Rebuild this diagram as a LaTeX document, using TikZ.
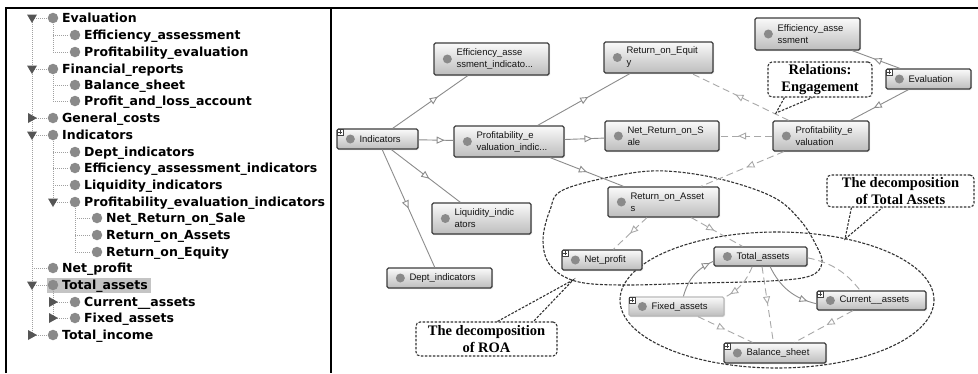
\documentclass[tikz,border=0pt]{standalone}
\usepackage{fontspec}
\setmainfont{Liberation Serif}
\newfontfamily\treefont{DejaVu Sans}
\newfontfamily\boxfont{Liberation Sans}
\usetikzlibrary{arrows.meta,decorations.markings,fit,shadows}

\definecolor{edgegray}{HTML}{8C8C8C}
\definecolor{dashgray}{HTML}{A8A8A8}
\definecolor{dotgray}{HTML}{8A8A8A}
\definecolor{boxborder}{HTML}{3C3C3C}
\definecolor{calloutc}{HTML}{333333}
\definecolor{treeline}{HTML}{A0A0A0}
\definecolor{togglec}{HTML}{555555}
\definecolor{selgray}{HTML}{C4C4C4}

\tikzset{
  obox/.style={draw=boxborder, line width=1.3pt, rounded corners=1.5pt, inner sep=0pt,
    top color=gray!4, bottom color=gray!52,
    drop shadow={opacity=0.25, shadow xshift=1pt, shadow yshift=-1.2pt}},
  faded/.style={draw=gray!55},
  odot/.style={circle, fill=dotgray, minimum size=9pt, inner sep=0pt},
  otext/.style={anchor=west, inner sep=0pt, align=left,
    font=\boxfont\fontsize{9.5}{12}\selectfont, text=black!92},
  plusbox/.style={draw=black!75, fill=white, minimum size=6pt, inner sep=0pt, line width=0.5pt,
    path picture={\draw[line width=0.6pt]
      ([xshift=-2pt]path picture bounding box.center) -- ([xshift=2pt]path picture bounding box.center)
      ([yshift=-2pt]path picture bounding box.center) -- ([yshift=2pt]path picture bounding box.center);}},
  sub/.style={draw=edgegray, line width=0.9pt},
  rel/.style={draw=dashgray, line width=0.9pt, dash pattern=on 7pt off 4pt},
  midtri/.style={postaction={decorate}, decoration={markings,
    mark=at position #1 with {\arrow{Triangle[length=8pt, width=7pt, fill=white]}}}},
  midtri/.default=0.55,
  callout/.style={draw=calloutc, line width=1.1pt, dash pattern=on 2.5pt off 1.5pt,
    rounded corners=4pt, fill=white, inner sep=0pt},
  ctext/.style={font=\bfseries\fontsize{14.5}{16.5}\selectfont, align=center, inner sep=0pt},
  cptr/.style={draw=calloutc, line width=1.1pt, dash pattern=on 2.5pt off 1.5pt},
  groupline/.style={draw=calloutc, line width=1.1pt, dash pattern=on 3pt off 1.5pt},
  tdot/.style={circle, fill=dotgray, minimum size=10.5pt, inner sep=0pt},
  ttext/.style={anchor=base west, inner sep=0pt,
    font=\treefont\bfseries\fontsize{12.5}{14}\selectfont},
  tline/.style={draw=treeline, line width=0.7pt, dash pattern=on 1pt off 1pt},
  panel/.style={draw=black, line width=1.8pt},
}

% ontology box: [style]{name}{x1}{y1}{x2}{y2}{text}
\newcommand{\onode}[7][]{%
  \node[obox, #1, fit={(#3,#4) (#5,#6)}] (#2) {};
  \node[odot] (#2-d) at ([xshift=14pt]#2.west) {};
  \node[otext] (#2-t) at ([xshift=23pt]#2.west) {#7};
}
\newcommand{\plusmark}[1]{%
  \node[plusbox] (#1-p) at ([xshift=4pt,yshift=-4pt]#1.north west) {};
}
% tree row: {name}{x}{y}{text}
\newcommand{\trow}[4]{%
  \node[tdot] (#1) at (#2,#3) {};
  \node[ttext] (#1-t) at (#2+9,#3+4.6) {#4};
}
\newcommand{\tdown}[2]{\fill[togglec] (#1-5,#2-3.5) -- (#1+5,#2-3.5) -- (#1,#2+5) -- cycle;}
\newcommand{\tright}[2]{\fill[togglec] (#1-4,#2-5) -- (#1-4,#2+5) -- (#1+5,#2) -- cycle;}

\begin{document}
\begin{tikzpicture}[x=1pt, y=-1pt]
\useasboundingbox (0,0) rectangle (978,373);
\fill[white] (0,0) rectangle (978,373);

% ---------- panels ----------
\draw[panel] (6,373) -- (6,8) -- (978,8);
\draw[panel] (331,8) -- (331,373);

% ---------- tree (left panel) ----------
\fill[selgray] (47,278) rectangle (151,293);
\draw[tline] (32,18) -- (32,335);
\draw[tline] (53,24) -- (53,52);
\draw[tline] (53,75) -- (53,101);
\draw[tline] (53,141) -- (53,202);
\draw[tline] (53,291) -- (53,318);
\draw[tline] (75,208) -- (75,252);
\foreach \yy in {18,69,118,135,268,285,335} {\draw[tline] (32,\yy) -- (47,\yy);}
\foreach \yy in {35,52,85,101,152,168,185,202,302,318} {\draw[tline] (53,\yy) -- (69,\yy);}
\foreach \yy in {218,235,252} {\draw[tline] (75,\yy) -- (91,\yy);}

\trow{tEval}{53}{18}{Evaluation}
\trow{tEffA}{75}{35}{Efficiency\_assessment}
\trow{tProfEv}{75}{52}{Profitability\_evaluation}
\trow{tFin}{53}{69}{Financial\_reports}
\trow{tBal}{75}{85}{Balance\_sheet}
\trow{tPL}{75}{101}{Profit\_and\_loss\_account}
\trow{tGen}{53}{118}{General\_costs}
\trow{tInd}{53}{135}{Indicators}
\trow{tDept}{75}{152}{Dept\_indicators}
\trow{tEffI}{75}{168}{Efficiency\_assessment\_indicators}
\trow{tLiq}{75}{185}{Liquidity\_indicators}
\trow{tProfI}{75}{202}{Profitability\_evaluation\_indicators}
\trow{tNRS}{97}{218}{Net\_Return\_on\_Sale}
\trow{tROA}{97}{235}{Return\_on\_Assets}
\trow{tROE}{97}{252}{Return\_on\_Equity}
\trow{tNP}{53}{268}{Net\_profit}
\trow{tTA}{53}{285}{Total\_assets}
\trow{tCA}{75}{302}{Current\_\_assets}
\trow{tFA}{75}{318}{Fixed\_assets}
\trow{tTI}{53}{335}{Total\_income}

\tdown{32}{18} \tdown{32}{69} \tright{32}{118} \tdown{32}{135}
\tdown{32}{285} \tright{32}{335}
\tdown{53}{202} \tright{53}{302} \tright{53}{318}

% ---------- group outlines ----------
\draw[groupline] plot[smooth cycle, tension=0.6] coordinates {
  (563,190) (620,175) (665,171) (720,179) (773,197) (800,220) (816,245) (822,263)
  (810,276) (770,281) (700,283) (620,285) (575,281) (550,265) (543,240) (550,210)};
\draw[groupline] (777,300) ellipse [x radius=157pt, y radius=68pt];

% ---------- ontology boxes ----------
\onode{effind}{434}{43}{549}{75}{Efficiency\_asse\\ssment\_indicato...}
\onode{ind}{337}{129}{418}{149}{Indicators}
\onode{profind}{454}{126}{564}{157}{Profitability\_e\\valuation\_indic...}
\onode{roe}{604}{42}{713}{73}{Return\_on\_Equit\\y}
\onode{nrs}{605}{121}{719}{151}{Net\_Return\_on\_S\\ale}
\onode{profev}{773}{121}{869}{151}{Profitability\_e\\valuation}
\onode{effa}{755}{18}{860}{50}{Efficiency\_asse\\ssment}
\onode{eval}{886}{69}{971}{89}{Evaluation}
\onode{roa}{608}{187}{719}{217}{Return\_on\_Asset\\s}
\onode{netp}{562}{250}{642}{270}{Net\_profit}
\onode{total}{714}{247}{807}{266}{Total\_assets}
\onode[faded]{fixed}{629}{297}{724}{316}{Fixed\_assets}
\onode{current}{817}{291}{926}{310}{Current\_\_assets}
\onode{balance}{724}{343}{826}{363}{Balance\_sheet}
\onode{liq}{432}{203}{531}{234}{Liquidity\_indic\\ators}
\onode{dept}{387}{268}{492}{288}{Dept\_indicators}
\plusmark{ind} \plusmark{eval} \plusmark{netp} \plusmark{fixed}
\plusmark{current} \plusmark{balance}

% ---------- edges ----------
\draw[sub, midtri=0.6] (ind) -- (effind);
\draw[sub, midtri=0.75] (ind) -- (profind);
\draw[sub, midtri=0.55] (ind) -- (liq);
\draw[sub, midtri=0.5] (ind) -- (dept);
\draw[sub, midtri=0.55] (profind) -- (roe);
\draw[sub, midtri=0.7] (profind) -- (nrs);
\draw[sub, midtri=0.5] (profind) -- (roa);
\draw[sub, midtri=0.55] (eval) -- (effa);
\draw[sub, midtri=0.6] (eval) -- (profev);
\draw[sub, midtri=0.85] (total) to[bend right=25] (current);
\draw[sub, midtri=0.92] (fixed) to[bend left=25] (total);
\draw[rel, midtri=0.55] (profev) -- (roe);
\draw[rel, midtri=0.65] (profev) -- (nrs);
\draw[rel, midtri=0.45] (profev) -- (roa);
\draw[rel, midtri=0.5] (roa) -- (netp);
\draw[rel, midtri=0.45] (roa) -- (total);
\draw[rel, midtri=0.5] (total) -- (balance);
\draw[rel, midtri=0.5] (fixed) -- (balance);
\draw[rel, midtri=0.45] (current) -- (balance);
\draw[rel, midtri=0.85] (total) to[bend left=20] (fixed);
\draw[rel] (total) to[bend left=20] (current);

% ---------- callouts ----------
\node[callout, fit={(768,62) (872,97)}] (relbox) {};
\node[ctext] (reltext) at (relbox.center) {Relations:\\Engagement};
\coordinate (reltip) at (776,113);
\draw[cptr] ([xshift=17pt]relbox.south west) -- (reltip) -- ([xshift=45pt]relbox.south west);

\node[callout, fit={(827,175) (974,207)}] (tabox) {};
\node[ctext] (tatext) at (tabox.center) {The decomposition\\of Total Assets};
\coordinate (tatip) at (845,239);
\draw[cptr] ([xshift=25pt]tabox.south west) -- (tatip) -- ([xshift=56pt]tabox.south west);

\node[callout, fit={(416,322) (557,356)}] (roabox) {};
\node[ctext] (roatext) at (roabox.center) {The decomposition\\of ROA};
\coordinate (roatip) at (573,280);
\draw[cptr] ([xshift=82pt]roabox.north west) -- (roatip) -- ([xshift=118pt]roabox.north west);
\end{tikzpicture}
\end{document}
